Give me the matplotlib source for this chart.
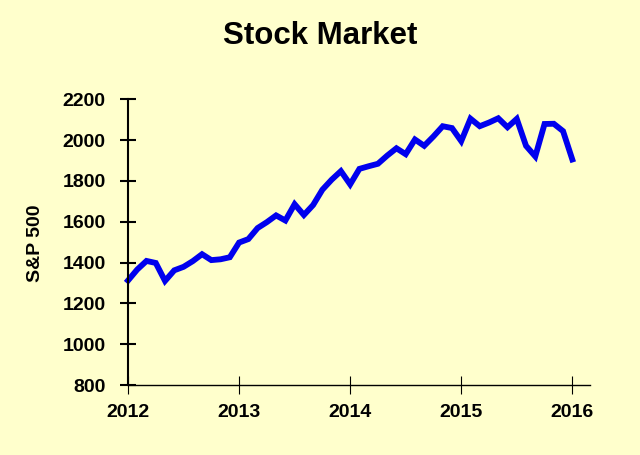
import matplotlib
matplotlib.use("Agg")
import matplotlib.pyplot as plt
import numpy as np

plt.rcParams['font.family'] = ['Liberation Sans', 'DejaVu Sans']

years_ticks = [2012, 2013, 2014, 2015, 2016]
y_ticks = [800, 1000, 1200, 1400, 1600, 1800, 2000, 2200]
sp500 = [1312, 1366, 1408, 1398, 1310, 1362, 1379, 1407, 1441, 1412, 1416, 1426,
         1498, 1515, 1569, 1598, 1631, 1606, 1686, 1633, 1682, 1757, 1806, 1848,
         1783, 1859, 1872, 1884, 1924, 1960, 1931, 2003, 1972, 2018, 2068, 2059,
         1995, 2105, 2068, 2086, 2107, 2063, 2104, 1972, 1920, 2079, 2080, 2044,
         1905]
x = [2012 + i / 12 for i in range(len(sp500))]

bg = '#FFFFCC'
fig = plt.figure(figsize=(6.4, 4.55), dpi=100, facecolor=bg)
ax = fig.add_axes([0.2, 0.1538, 0.722, 0.628], facecolor=bg)
ax.plot(x, sp500, color='#0000EE', lw=4.2, solid_joinstyle='miter', clip_on=False)
ax.set_xlim(2012, 2016.16)
ax.set_ylim(800, 2200)
ax.set_xticks(years_ticks)
ax.set_yticks(y_ticks)
ax.set_xticklabels([str(v) for v in years_ticks], fontsize=14, fontweight='bold')
ax.set_yticklabels([str(v) for v in y_ticks], fontsize=14, fontweight='bold')
for s in ['top', 'right']:
    ax.spines[s].set_visible(False)
ax.spines['left'].set_linewidth(1.5)
ax.spines['bottom'].set_linewidth(1.0)
ax.tick_params(axis='y', direction='inout', length=12, width=1.5, pad=10)
ax.tick_params(axis='x', direction='inout', length=13, width=0.8, pad=7)
fig.text(36 / 640, 1 - 243 / 455, 'S&P 500', rotation=90, ha='center', va='center',
         fontsize=14, fontweight='bold')
fig.text(0.5, 1 - 36 / 455, 'Stock Market', ha='center', va='center', fontsize=22.5, fontweight='bold')
fig.savefig('out.png', dpi=100, facecolor=bg)
